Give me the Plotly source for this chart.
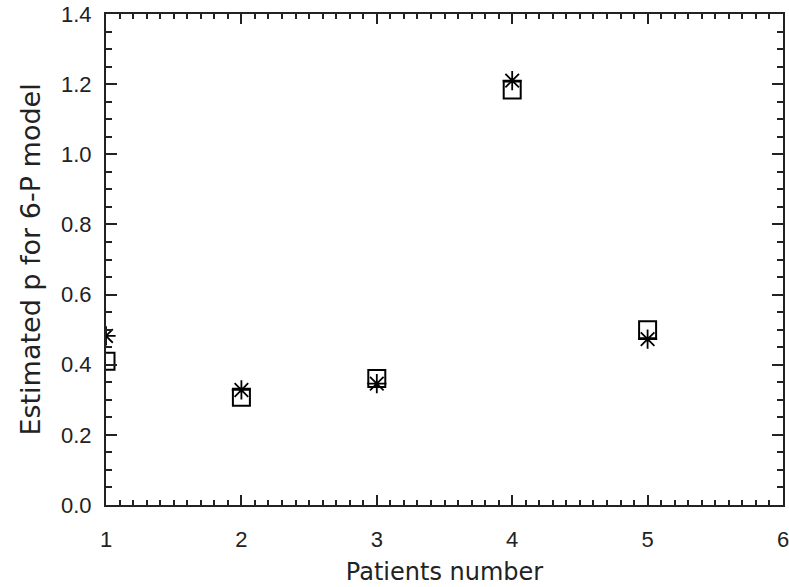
import plotly.graph_objects as go

patients = [1, 2, 3, 4, 5]
p_square = [0.41, 0.307, 0.361, 1.183, 0.50]
p_star = [0.482, 0.328, 0.346, 1.21, 0.473]

x_ticks = [1, 2, 3, 4, 5, 6]
y_ticks = [0.0, 0.2, 0.4, 0.6, 0.8, 1.0, 1.2, 1.4]

FONT = "DejaVu Sans"
TICKFONT = "Liberation Sans"
INK = "#222222"

fig = go.Figure()
fig.add_trace(go.Scatter(
    x=patients, y=p_square, mode="markers",
    marker=dict(symbol="square-open", size=17, color="black", line=dict(width=2, color="black")),
    showlegend=False, cliponaxis=True))
fig.add_trace(go.Scatter(
    x=patients, y=p_star, mode="markers",
    marker=dict(symbol="asterisk-open", size=16, color="black", line=dict(width=1.8, color="black")),
    showlegend=False, cliponaxis=True))

axis_common = dict(
    showgrid=False, zeroline=False, showline=True, linecolor=INK, linewidth=2,
    mirror="allticks", ticks="inside", tickcolor=INK, tickwidth=2,
    tickfont=dict(family=TICKFONT, size=22, color=INK),
    ticklabeloverflow="allow", automargin=False,
)

fig.update_xaxes(
    range=[1, 6], tickvals=x_ticks, ticktext=[str(v) for v in x_ticks], ticklen=10,
    ticklabelstandoff=14,
    minor=dict(dtick=0.1, ticklen=5, ticks="inside", tickcolor=INK, tickwidth=2, showgrid=False),
    title=dict(text="Patients number", font=dict(family=FONT, size=24, color=INK), standoff=12),
    **axis_common)
fig.update_yaxes(
    range=[0, 1.40001], tickvals=y_ticks, ticktext=[f"{v:.1f}" for v in y_ticks], ticklen=11,
    ticklabelstandoff=8,
    minor=dict(dtick=0.05, ticklen=6, ticks="inside", tickcolor=INK, tickwidth=2, showgrid=False),
    title=dict(text="Estimated p for 6-P model", font=dict(family=FONT, size=27, color=INK), standoff=13),
    **axis_common)

fig.update_layout(
    width=789, height=587, autosize=False,
    margin=dict(l=106, r=6, t=14, b=82),
    plot_bgcolor="white", paper_bgcolor="white",
)

fig.write_html("out.html")
